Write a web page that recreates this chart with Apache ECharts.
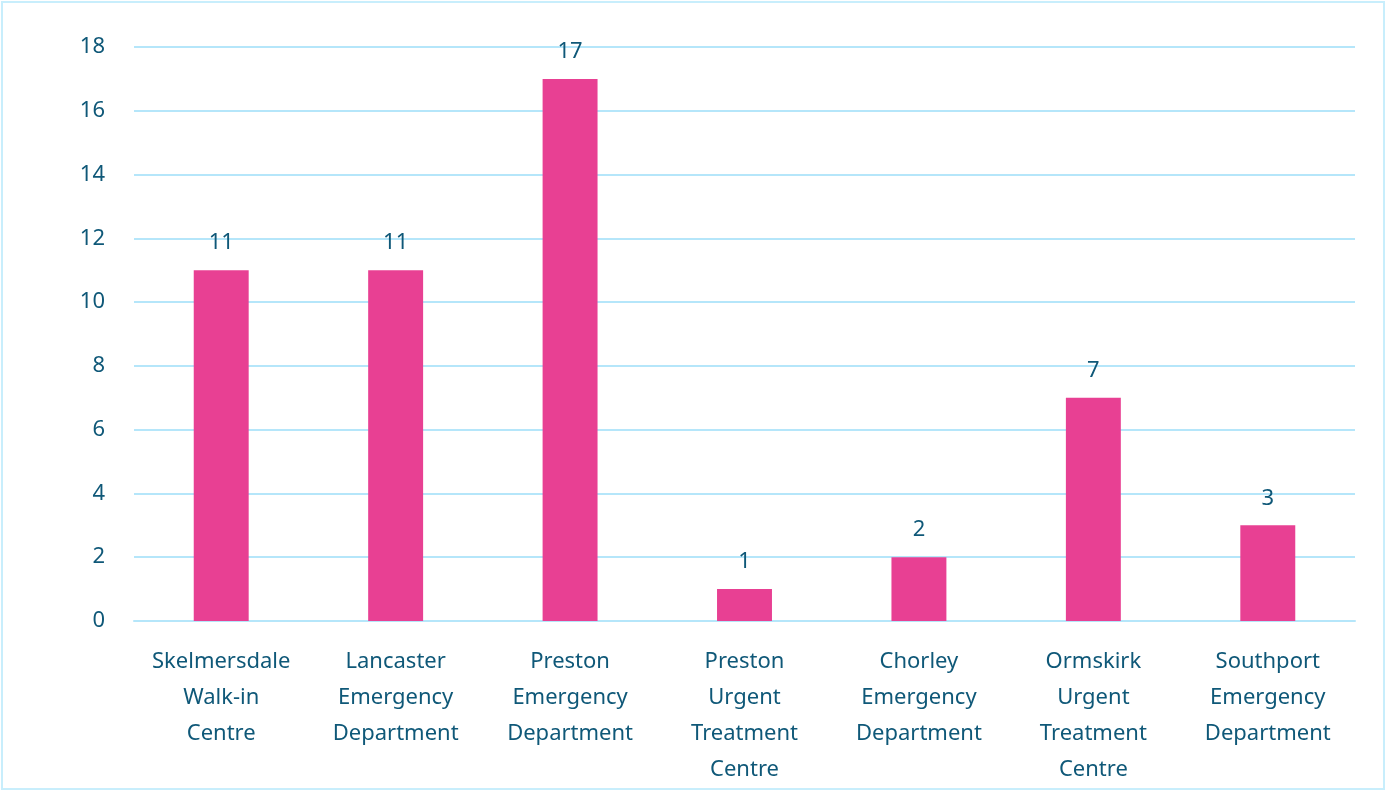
<!DOCTYPE html>
<html>
<head>
<meta charset="utf-8">
<script src="https://cdn.jsdelivr.net/npm/echarts@6/dist/echarts.min.js"></script>
<style>
  html, body { margin: 0; padding: 0; background: #ffffff; }
  #chart {
    position: absolute; left: 1px; top: 1px;
    width: 1384px; height: 789px;
    box-sizing: border-box;
    border: 2px solid #c8eefc;
  }
</style>
</head>
<body>
<div id="chart"></div>
<script>
// Attendances by site
const categories = [
  'Skelmersdale\nWalk-in\nCentre',
  'Lancaster\nEmergency\nDepartment',
  'Preston\nEmergency\nDepartment',
  'Preston\nUrgent\nTreatment\nCentre',
  'Chorley\nEmergency\nDepartment',
  'Ormskirk\nUrgent\nTreatment\nCentre',
  'Southport\nEmergency\nDepartment'
];
const values = [11, 11, 17, 1, 2, 7, 3];
const yTicks = [0, 2, 4, 6, 8, 10, 12, 14, 16, 18];

const textColor = '#0f5878';
const fontFamily = '"Noto Sans", "Open Sans", sans-serif';

const chart = echarts.init(document.getElementById('chart'), null, { renderer: 'canvas' });
chart.setOption({
  animation: false,
  grid: { left: 131, right: 28, top: 44, bottom: 162 },
  xAxis: {
    type: 'category',
    data: categories,
    axisLine: { show: true, lineStyle: { color: '#b5e6fa', width: 2 } },
    axisTick: { show: false },
    axisLabel: {
      color: textColor,
      fontFamily: fontFamily,
      fontSize: 22,
      lineHeight: 36,
      margin: 23,
      interval: 0
    }
  },
  yAxis: {
    type: 'value',
    min: yTicks[0],
    max: yTicks[yTicks.length - 1],
    interval: 2,
    axisLine: { show: false },
    axisTick: { show: false },
    splitLine: { lineStyle: { color: '#b5e6fa', width: 2 } },
    axisLabel: {
      color: textColor,
      fontFamily: fontFamily,
      fontSize: 22,
      margin: 29
    }
  },
  series: [{
    type: 'bar',
    data: values,
    barWidth: '31.5%',
    itemStyle: { color: '#e84093' },
    label: {
      show: true,
      position: 'top',
      distance: 16,
      color: textColor,
      fontFamily: fontFamily,
      fontSize: 22
    }
  }]
});
</script>
</body>
</html>
